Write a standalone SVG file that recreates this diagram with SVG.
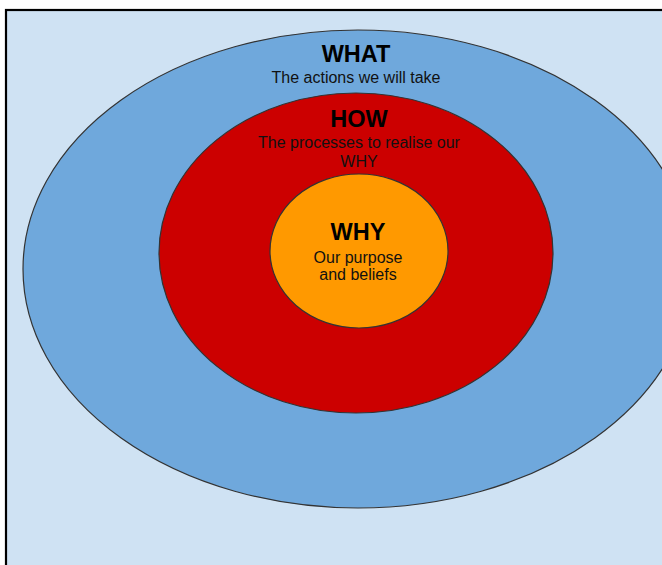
<svg xmlns="http://www.w3.org/2000/svg" width="662" height="565" viewBox="0 0 662 565">
<style>
.ring{stroke:#333;stroke-width:1.2}
.t{font-family:"Liberation Sans",Arial,sans-serif;text-anchor:middle;fill:#111}
.h{font-size:23.5px;font-weight:bold;fill:#000}
.s{font-size:16px}
</style>
<rect x="0" y="0" width="662" height="565" fill="#ffffff"/>
<rect x="6" y="10" width="700" height="600" fill="#cfe2f3" stroke="#000" stroke-width="2.2"/>
<g id="what">
<ellipse class="ring" cx="358" cy="269" rx="335" ry="239" fill="#6fa8dc"/>
<text class="t h" x="356" y="62">WHAT</text>
<text class="t s" x="356" y="83">The actions we will take</text>
</g>
<g id="how">
<ellipse class="ring" cx="356" cy="253" rx="197" ry="160" fill="#cc0000"/>
<text class="t h" x="359" y="127">HOW</text>
<text class="t s" x="359" y="148">The processes to realise our</text>
<text class="t s" x="359" y="167">WHY</text>
</g>
<g id="why">
<ellipse class="ring" cx="359" cy="251" rx="89" ry="77" fill="#ff9900"/>
<text class="t h" x="358" y="240">WHY</text>
<text class="t s" x="358" y="263">Our purpose</text>
<text class="t s" x="358" y="280">and beliefs</text>
</g>
<g id="connectors"></g>
</svg>
